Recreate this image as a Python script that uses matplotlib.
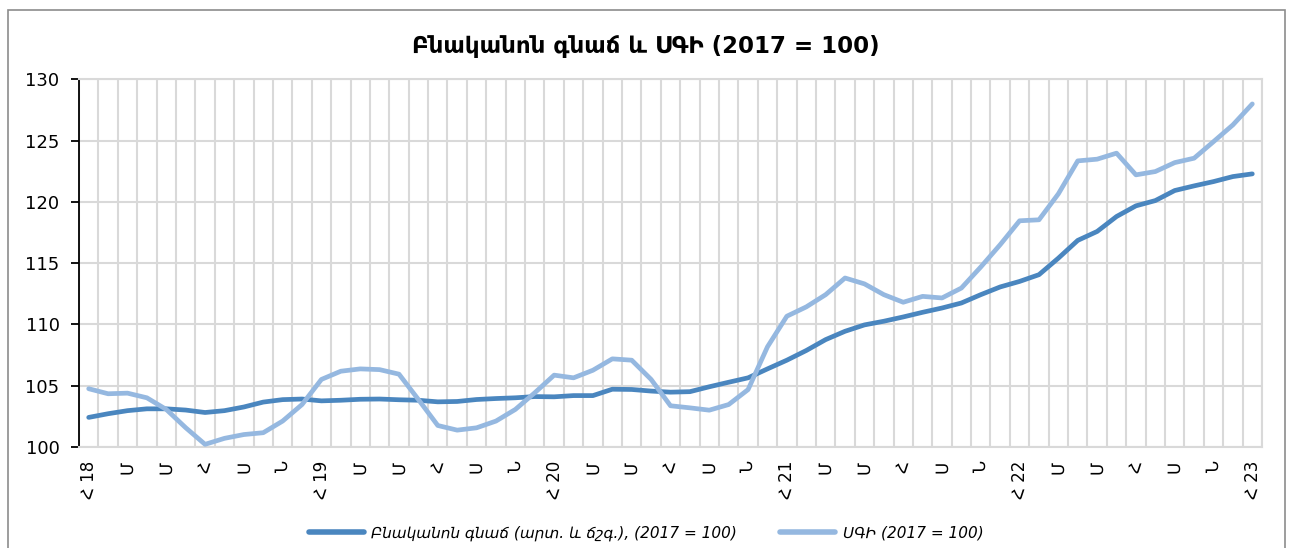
import matplotlib
matplotlib.use("Agg")
import matplotlib.pyplot as plt
from matplotlib.patches import Rectangle
from matplotlib.ticker import MultipleLocator, FixedLocator

# ---- data (monthly, Jan 2018 - Jan 2023) ----
housing = [102.4, 102.7, 102.95, 103.1, 103.1, 103.0, 102.8, 102.95, 103.25, 103.65,
           103.85, 103.9, 103.75, 103.8, 103.88, 103.9, 103.84, 103.8, 103.67, 103.7,
           103.86, 103.94, 104.0, 104.1, 104.08, 104.18, 104.18, 104.7, 104.68, 104.55,
           104.46, 104.5, 104.9, 105.27, 105.63, 106.36, 107.07, 107.86, 108.75, 109.43,
           109.95, 110.25, 110.6, 110.98, 111.33, 111.74, 112.42, 113.05, 113.5, 114.05,
           115.4, 116.85, 117.58, 118.8, 119.67, 120.1, 120.92, 121.3, 121.65, 122.06,
           122.28]
cpi = [104.74, 104.33, 104.38, 104.0, 103.05, 101.56, 100.2, 100.69, 101.0, 101.15,
       102.1, 103.45, 105.5, 106.17, 106.36, 106.3, 105.93, 103.86, 101.74, 101.36,
       101.55, 102.1, 103.05, 104.41, 105.85, 105.63, 106.25, 107.18, 107.07, 105.5,
       103.35, 103.18, 102.99, 103.45, 104.67, 108.16, 110.66, 111.42, 112.42, 113.78,
       113.3, 112.42, 111.8, 112.28, 112.15, 112.96, 114.68, 116.5, 118.45, 118.53,
       120.65, 123.34, 123.48, 123.97, 122.2, 122.47, 123.2, 123.56, 124.91, 126.28,
       127.99]
month_letters = ["Հ", "Մ", "Մ", "Հ", "Ս", "Ն"]
years = ["18", "19", "20", "21", "22", "23"]

title = "Բնականոն գնաճ և ՍԳԻ (2017 = 100)"
label_housing = "Բնականոն գնաճ (արտ. և ճշգ.), (2017 = 100)"
label_cpi = "ՍԳԻ (2017 = 100)"

# ---- tick labels ----
tick_pos = []
tick_lab = []
for i in range(0, len(cpi), 2):
    m = (i % 12) // 2
    if m == 0:
        tick_lab.append(month_letters[m] + " " + years[i // 12])
    else:
        tick_lab.append(month_letters[m])
    tick_pos.append(i)

W, H = 1292, 548
fig = plt.figure(figsize=(W / 100, H / 100), dpi=100)
plt.rcParams['font.family'] = ['DejaVu Sans']

# outer border
fig.patches.append(Rectangle((8 / W, -0.05), (1285 - 8) / W, 1.05 - 10 / H,
                             transform=fig.transFigure, fill=False,
                             edgecolor="#8c8c8c", linewidth=1.2))

ax = fig.add_axes([79 / W, 1 - 446.8 / H, (1262 - 79) / W, (446.8 - 79.3) / H])

x = list(range(len(cpi)))
l1, = ax.plot(x, housing, color="#4a86bf", lw=3.4, solid_capstyle="round",
              solid_joinstyle="round", label=label_housing, zorder=3)
l2, = ax.plot(x, cpi, color="#95b8e0", lw=3.4, solid_capstyle="round",
              solid_joinstyle="round", label=label_cpi, zorder=3)

ax.set_xlim(-0.5, len(cpi) - 0.5)
ax.set_ylim(100, 130)
ax.yaxis.set_major_locator(MultipleLocator(5))
ax.set_xticks(tick_pos)
ax.set_xticklabels(tick_lab, rotation=90, fontsize=12)
ax.xaxis.set_minor_locator(FixedLocator([k + 0.5 for k in range(-1, len(cpi))]))
ax.tick_params(axis="x", which="both", length=0, pad=10)
ax.tick_params(axis="y", which="major", length=6, width=1.3, labelsize=13,
               color="black", pad=8)
ax.grid(True, axis="y", which="major", color="#d9d9d9", lw=1.5, zorder=0)
ax.grid(True, axis="x", which="minor", color="#d9d9d9", lw=1.5, zorder=0)
ax.grid(False, axis="x", which="major")

for s in ["top", "right", "bottom"]:
    ax.spines[s].set_color("#d9d9d9")
    ax.spines[s].set_linewidth(1.5)
ax.spines["left"].set_color("black")
ax.spines["left"].set_linewidth(1.3)

fig.text(0.5, 1 - 47 / H, title, ha="center", va="center",
         fontsize=16.5, fontweight="bold")

leg = fig.legend(handles=[l1, l2], loc="center", bbox_to_anchor=(0.5, 1 - 533 / H),
                 ncol=2, frameon=False, prop={"style": "italic", "size": 11},
                 handlelength=3.6, columnspacing=2.8, handletextpad=0.5)
for h in leg.legend_handles:
    h.set_linewidth(4)

fig.savefig("out.png", dpi=100)
